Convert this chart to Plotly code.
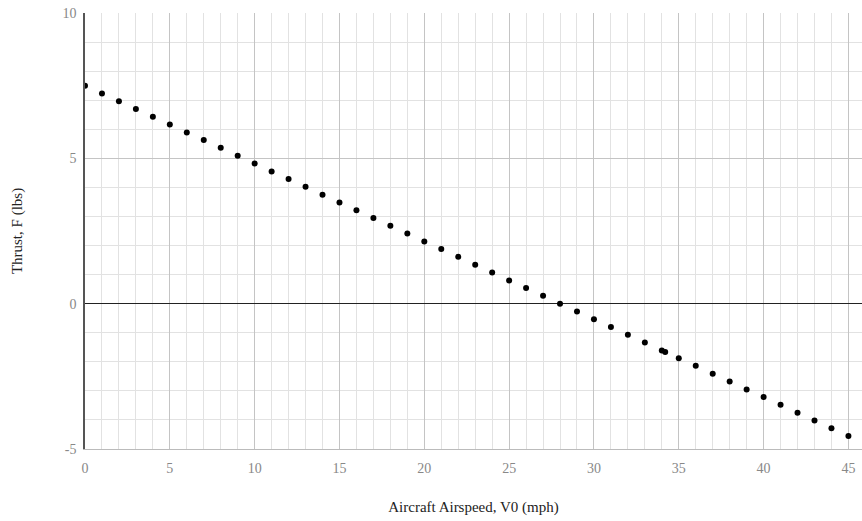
import plotly.graph_objects as go

airspeed = [0, 1, 2, 3, 4, 5, 6, 7, 8, 9, 10, 11, 12, 13, 14, 15, 16, 17, 18, 19,
            20, 21, 22, 23, 24, 25, 26, 27, 28, 29, 30, 31, 32, 33, 34, 34.2, 35,
            36, 37, 38, 39, 40, 41, 42, 43, 44, 45]
thrust = [7.50, 7.23, 6.96, 6.70, 6.43, 6.16, 5.89, 5.63, 5.36, 5.09, 4.82, 4.55,
          4.29, 4.02, 3.75, 3.48, 3.21, 2.95, 2.68, 2.41, 2.14, 1.88, 1.61, 1.34,
          1.07, 0.80, 0.54, 0.27, 0.00, -0.27, -0.54, -0.80, -1.07, -1.34, -1.61,
          -1.66, -1.88, -2.14, -2.41, -2.68, -2.95, -3.21, -3.48, -3.75, -4.02,
          -4.29, -4.55]

x_ticks = [0, 5, 10, 15, 20, 25, 30, 35, 40, 45]
y_ticks = [-5, 0, 5, 10]
x_minor = list(range(0, 46))
y_minor = list(range(-5, 11))

FONT = "Liberation Serif"
X_RANGE = [0, 45.8]
Y_RANGE = [-5, 10]

fig = go.Figure()
fig.add_trace(go.Scatter(
    x=airspeed, y=thrust, mode="markers",
    marker=dict(color="black", size=6),
    showlegend=False, hoverinfo="x+y",
))

fig.update_layout(
    width=862, height=521,
    margin=dict(l=85, r=0, t=13, b=72),
    plot_bgcolor="white", paper_bgcolor="white",
    font=dict(family=FONT, size=13, color="#222"),
    xaxis=dict(
        range=X_RANGE, tickmode="array", tickvals=x_minor,
        ticktext=[str(v) if v in x_ticks else "" for v in x_minor],
        showgrid=True, gridcolor="#e2e2e2", gridwidth=1,
        zeroline=False, showline=True, linecolor="#bbbbbb", linewidth=1,
        ticks="outside", ticklen=6, tickcolor="rgba(0,0,0,0)",
        tickfont=dict(family=FONT, size=14, color="#888888"),
        title=dict(text="Aircraft Airspeed, V0 (mph)", standoff=26,
                   font=dict(family=FONT, size=15, color="#222")),
    ),
    yaxis=dict(
        range=Y_RANGE, tickmode="array", tickvals=y_minor,
        ticktext=[str(v) if v in y_ticks else "" for v in y_minor],
        showgrid=True, gridcolor="#e2e2e2", gridwidth=1,
        zeroline=False,
        showline=True, linecolor="#555555", linewidth=1.5,
        ticks="outside", ticklen=4, tickcolor="rgba(0,0,0,0)",
        tickfont=dict(family=FONT, size=14, color="#888888"),
        title=dict(text="Thrust, F (lbs)", standoff=36,
                   font=dict(family=FONT, size=15, color="#222")),
    ),
    xaxis2=dict(
        range=X_RANGE, overlaying="x", tickmode="array",
        tickvals=x_ticks, showticklabels=False, showgrid=True,
        gridcolor="#c4c4c4", gridwidth=1, zeroline=False, showline=False,
    ),
    yaxis2=dict(
        range=Y_RANGE, overlaying="y", tickmode="array",
        tickvals=y_ticks, showticklabels=False, showgrid=True,
        gridcolor="#c4c4c4", gridwidth=1,
        zeroline=True, zerolinecolor="#222222", zerolinewidth=1, showline=False,
    ),
)
# invisible trace to activate the overlay axes that carry the major grid
fig.add_trace(go.Scatter(x=[None], y=[None], xaxis="x2", yaxis="y2",
                         showlegend=False, hoverinfo="skip"))

fig.write_html("out.html")
